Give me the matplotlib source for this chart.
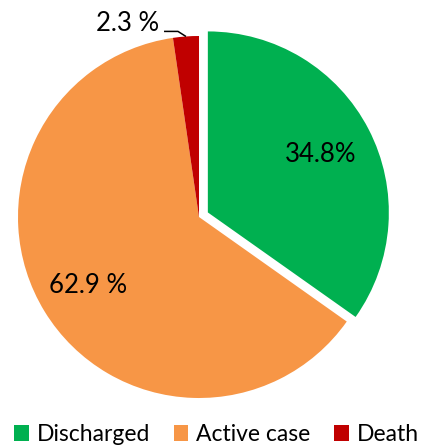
import numpy as np
import matplotlib
matplotlib.use("Agg")
import matplotlib.pyplot as plt
from matplotlib.patches import Patch

categories = ["Discharged", "Active case", "Death"]
values = [34.8, 62.9, 2.3]
labels = ["34.8%", "62.9 %", "2.3 %"]
colors = ["#00B050", "#F79646", "#C00000"]
explode = [0.055, 0, 0]

plt.rcParams['font.family'] = ['Lato', 'DejaVu Sans']

W, H = 433, 447
fig = plt.figure(figsize=(W / 100, H / 100), dpi=100)
cx, cy, R = 199, 217, 181
ax = fig.add_axes([(cx - R) / W, (H - cy - R) / H, 2 * R / W, 2 * R / H])

wedges, _ = ax.pie(values, colors=colors, startangle=90, counterclock=False,
                   explode=explode, radius=1,
                   wedgeprops=dict(linewidth=0))
ax.set_xlim(-1, 1)
ax.set_ylim(-1, 1)
ax.set_aspect('equal')
ax.axis('off')

# inside labels
for i, dist in [(0, 0.70), (1, 0.72)]:
    w = wedges[i]
    ang = np.deg2rad((w.theta1 + w.theta2) / 2)
    ox, oy = w.center
    ax.text(ox + dist * np.cos(ang), oy + dist * np.sin(ang), labels[i],
            ha='center', va='center', fontsize=18.5, color='black')

# outside label for death
w = wedges[2]
ang = np.deg2rad((w.theta1 + w.theta2) / 2)
ex, ey = np.cos(ang), np.sin(ang)
elbow = (ex - 0.044, ey + 0.028)
ax.plot([ex, elbow[0], elbow[0] - 0.077], [ey, elbow[1], elbow[1]],
        color='black', lw=1.1, clip_on=False, solid_capstyle='butt')
ax.text(elbow[0] - 0.105, elbow[1] + 0.045, labels[2], ha='right', va='center',
        fontsize=18.5, color='black')

handles = [Patch(facecolor=c, edgecolor='none') for c in colors]
fig.legend(handles, categories, loc='lower center', ncol=3, frameon=False,
           bbox_to_anchor=(0.5, -0.042), fontsize=16.5, handlelength=0.65,
           handleheight=0.65, handletextpad=0.35, columnspacing=1.0)

fig.savefig("out.png", dpi=100)
